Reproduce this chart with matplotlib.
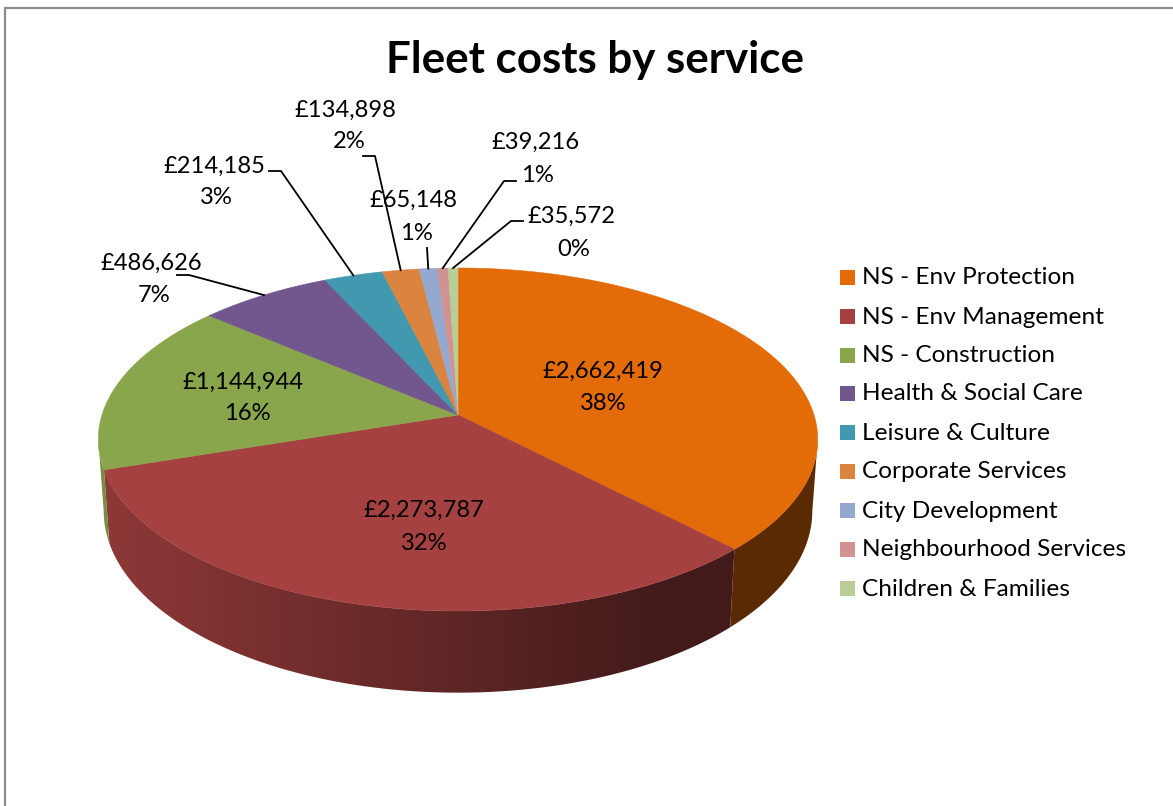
import numpy as np
import matplotlib
matplotlib.use("Agg")
import matplotlib.pyplot as plt
from matplotlib.colors import to_rgb
from matplotlib.patches import Polygon, Rectangle

plt.rcParams['font.family'] = ['Lato', 'DejaVu Sans']

services = ['NS - Env Protection', 'NS - Env Management', 'NS - Construction',
            'Health & Social Care', 'Leisure & Culture', 'Corporate Services',
            'City Development', 'Neighbourhood Services', 'Children & Families']
costs = [2662419, 2273787, 1144944, 486626, 214185, 134898, 65148, 39216, 35572]
percents = ['38%', '32%', '16%', '7%', '3%', '2%', '1%', '1%', '0%']
colors = ['#E36C09', '#A54241', '#8AA64C', '#72578F', '#4298AF',
          '#DA843F', '#93A9CF', '#D09392', '#B9CD96']

# label centres in pixels: (x, y) of the money line and of the percent line
money_pos = [(603, 371), (424, 510), (243, 382), (151, 263), (214, 166),
             (345, 110), (413, 200), (536, 142), (571, 216)]
pct_pos = [(603, 404), (424, 544), (247, 414), (154, 295), (216, 198),
           (349, 142), (416, 234), (537, 175), (574, 249)]

# leader elbows, None where the label sits on the slice
leaders = [None, None, None,
           [(177, 275), (189, 275)],
           [(269, 171), (281, 171)],
           [(363, 156), (375, 156)],
           [(427, 248)],
           [(516, 181), (504, 181)],
           [(523, 221), (511, 221)]]

# tilted disc: circle seen in perspective
cx, cy = 458, 415
rx, ry, k = 356, 168, 1 / 7
depth, shrink = 70, 0.985


def top_xy(theta):
    w = 1 + k * np.cos(theta)
    return cx + rx * np.sin(theta) / w, cy - ry * np.cos(theta) / w


def bottom_xy(theta):
    x, y = top_xy(theta)
    w = 1 + k * np.cos(theta)
    return cx + (x - cx) * shrink, y + depth / w


fig = plt.figure(figsize=(11.73, 8.06), dpi=100)
ax = fig.add_axes([0, 0, 1, 1])

# chart frame, cut by the edge of the figure
ax.plot([5, 5, 1173], [806, 7.5, 7.5], color='#8c8c8c', lw=1.6, solid_joinstyle='miter')

edges = np.concatenate([[0], np.cumsum(costs)]) / sum(costs) * 2 * np.pi

# side walls: horizontal gradient clipped to the outline of each slice,
# only the front part of the rim between the two widest points
grad_x = np.arange(0, 1173)
grad_f = np.interp(grad_x, [100, 480, 650, 735], [0.86, 0.55, 0.41, 0.40])
for i, c in enumerate(colors):
    th = np.linspace(edges[i], edges[i + 1], 400)
    th = th[np.cos(th) <= -k]
    if len(th) < 2:
        continue
    tx, ty = top_xy(th)
    bx, by = bottom_xy(th)
    wall = Polygon(np.column_stack([np.r_[tx, bx[::-1]], np.r_[ty, by[::-1]]]),
                   closed=True, fc='none', ec='none', transform=ax.transData)
    ax.add_patch(wall)
    grad = np.outer(grad_f, to_rgb(c))[np.newaxis, :, :]
    im = ax.imshow(grad, extent=(0, 1173, 806, 0), aspect='auto', zorder=1)
    im.set_clip_path(wall)

for i, c in enumerate(colors):
    th = np.linspace(edges[i], edges[i + 1], 200)
    xs, ys = top_xy(th)
    pts = np.column_stack([np.r_[cx, xs], np.r_[cy, ys]])
    ax.add_patch(Polygon(pts, closed=True, fc=c, ec=c, lw=0.4, zorder=2))

for i in range(len(costs)):
    mx, my = money_pos[i]
    px, py = pct_pos[i]
    ax.text(mx, my, f'£{costs[i]:,}', ha='center', va='center', fontsize=17.1, color='black', zorder=4)
    ax.text(px, py, percents[i], ha='center', va='center', fontsize=17.1, color='black', zorder=4)
    if leaders[i] is not None:
        end = top_xy((edges[i] + edges[i + 1]) / 2)
        line = leaders[i] + [end]
        ax.plot([p[0] for p in line], [p[1] for p in line], color='black', lw=1.3, zorder=3)

# legend
legend_y = [277, 316, 355, 393, 432, 471, 510, 549, 588]
for name, c, y in zip(services, colors, legend_y):
    ax.add_patch(Rectangle((840, y - 7.5), 15, 15, fc=c, ec='none'))
    ax.text(862, y + 1, name, ha='left', va='center', fontsize=17.6, color='black')

ax.text(595, 60, 'Fleet costs by service', ha='center', va='center',
        fontsize=31.6, fontweight='bold', color='black')

ax.set_xlim(0, 1173)
ax.set_ylim(806, 0)
ax.axis('off')

fig.savefig('out.png', dpi=100, facecolor='white')
